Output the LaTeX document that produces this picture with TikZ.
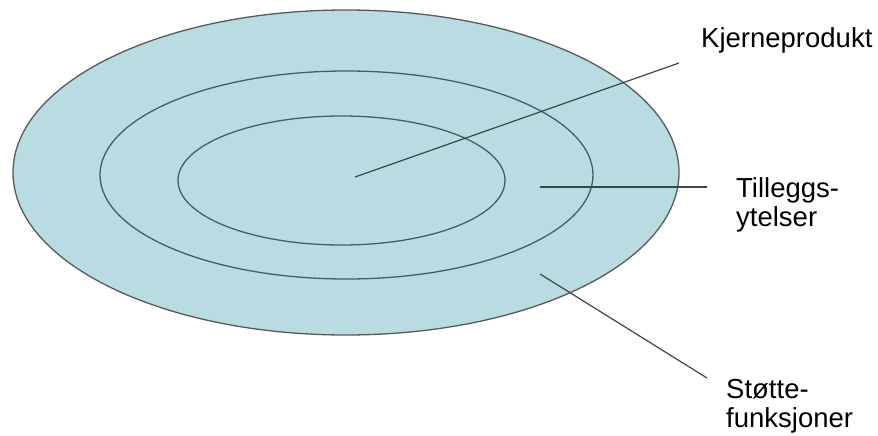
\documentclass[tikz,border=0pt]{standalone}
\usepackage{fontspec}
\setmainfont{Liberation Sans}
\begin{document}
\begin{tikzpicture}[x=1pt,y=-1pt,
  ring/.style={draw=ringcol,line width=1.3pt},
  leader/.style={draw=linecol,line width=1.2pt},
  lbl/.style={inner sep=0pt,align=left,font=\fontsize{27.5}{29}\selectfont,text=black}]
\definecolor{fillcol}{RGB}{184,220,226}
\definecolor{ringcol}{RGB}{62,96,102}
\definecolor{linecol}{RGB}{55,72,76}
\useasboundingbox (0,0) rectangle (878,436);
\fill[fillcol] (346,172.5) ellipse[x radius=333,y radius=162.5];
\draw[draw=gray!70!black,line width=1.3pt] (346,172.5) ellipse[x radius=333,y radius=162.5];
\draw[ring] (346.5,175) ellipse[x radius=246.5,y radius=104];
\draw[ring] (341.5,180.5) ellipse[x radius=163.5,y radius=64.5];
\coordinate (k1) at (355,177);
\coordinate (k2) at (679,63);
\coordinate (t1) at (540,187);
\coordinate (t2) at (707,187);
\coordinate (s1) at (540,274);
\coordinate (s2) at (707,378);
\draw[leader] (k1) -- (k2);
\draw[leader] (t1) -- (t2);
\draw[leader] (s1) -- (s2);
\node[lbl,anchor=base west] (kj) at (701,48) {Kjerneprodukt};
\node[lbl,anchor=north west] (ti) at (736,177) {Tilleggs-\\ytelser};
\node[lbl,anchor=north west] (st) at (726,379) {Støtte-\\funksjoner};
\end{tikzpicture}
\end{document}
